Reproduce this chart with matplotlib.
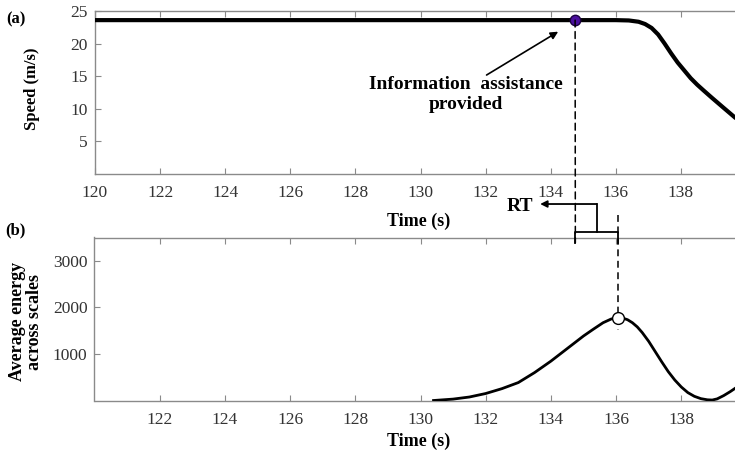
import matplotlib
matplotlib.use("Agg")
import matplotlib.pyplot as plt
from matplotlib.patches import ConnectionPatch

# ---------------- data ----------------
speed_time = [120.0, 130.0, 136.0, 136.4, 136.7, 136.9, 137.1, 137.3, 137.5,
              137.7, 137.9, 138.1, 138.3, 138.5, 138.7, 138.95, 139.3, 139.7, 140.0]
speed_vals = [23.6, 23.6, 23.6, 23.55, 23.35, 23.0, 22.4, 21.4, 20.0,
              18.5, 17.1, 15.9, 14.7, 13.7, 12.8, 11.7, 10.2, 8.5, 7.5]

energy_time = [130.4, 131.0, 131.5, 132.0, 132.5, 133.0, 133.5, 134.0, 134.5,
               135.0, 135.3, 135.6, 135.85, 136.05, 136.2, 136.35, 136.5, 136.65,
               136.8, 137.0, 137.2, 137.4, 137.6, 137.8, 138.0, 138.2, 138.4,
               138.6, 138.8, 138.95, 139.1, 139.3, 139.5, 139.7, 139.85, 140.0]
energy_vals = [0, 30, 75, 150, 255, 385, 600, 845, 1115,
               1385, 1530, 1670, 1750, 1780, 1770, 1735, 1670, 1580,
               1460, 1270, 1050, 830, 620, 440, 290, 170, 90,
               40, 15, 10, 35, 105, 190, 285, 345, 400]

info_time = 134.75      # information assistance provided
info_speed = 23.6
peak_time = 136.05      # peak of average energy
peak_energy = 1780

top_xticks = [120, 122, 124, 126, 128, 130, 132, 134, 136, 138]
top_yticks = [5, 10, 15, 20, 25]
bot_xticks = [122, 124, 126, 128, 130, 132, 134, 136, 138]
bot_yticks = [1000, 2000, 3000]

# ---------------- style ----------------
plt.rcParams['font.family'] = ['Liberation Serif', 'DejaVu Serif']
W, H = 735, 454
fig = plt.figure(figsize=(W / 100, H / 100), dpi=100)

ax1 = fig.add_axes([95 / W, 1 - 174 / H, 651 / W, 163 / H])
ax2 = fig.add_axes([94.5 / W, 1 - 400.5 / H, 652 / W, 163 / H])

spine_col = '#8a8a8a'
tick_col = '#333333'
for ax in (ax1, ax2):
    for s in ax.spines.values():
        s.set_color(spine_col)
        s.set_linewidth(1.0)
    ax.tick_params(direction='in', length=4, width=0.8, color=spine_col,
                   labelsize=12.5, labelcolor=tick_col, top=True, right=True)
    ax.tick_params(axis='x', pad=8)
    ax.tick_params(axis='y', pad=5)
    ax.set_xlim(120, 140)

# ---------------- panel (a) ----------------
ax1.plot(speed_time, speed_vals, color='black', lw=3.0, solid_capstyle='butt',
         solid_joinstyle='round', zorder=3)
ax1.set_ylim(0, 25)
ax1.set_xticks(top_xticks)
ax1.set_yticks(top_yticks)
ax1.set_xlabel('Time (s)', fontsize=13, fontweight='bold')
ax1.xaxis.set_label_coords(0.497, -0.235)
ax1.set_ylabel('Speed (m/s)', fontsize=12, fontweight='bold')
ax1.yaxis.set_label_coords(-0.084, 0.52)

ax1.plot([info_time], [info_speed], 'o', ms=7.5, mfc='#4a0f9e', mec='#1a0040',
         mew=1.0, zorder=5, clip_on=False)

ax1.text(131.39, 12.16, 'Information  assistance\nprovided', fontsize=14,
         fontweight='bold', ha='center', va='center', linespacing=1.2,
         multialignment='center')
ax1.annotate('', xy=(134.23, 21.83), xytext=(132.03, 15.18),
             arrowprops=dict(arrowstyle='-|>', color='black', lw=1.2,
                             mutation_scale=11, shrinkA=0, shrinkB=0))

# ---------------- panel (b) ----------------
ax2.plot(energy_time, energy_vals, color='black', lw=2.0,
         solid_joinstyle='round', zorder=3)
ax2.set_ylim(0, 3500)
ax2.set_xticks(bot_xticks)
ax2.set_yticks(bot_yticks)
ax2.set_xlabel('Time (s)', fontsize=13, fontweight='bold')
ax2.xaxis.set_label_coords(0.497, -0.195)
ax2.set_ylabel('Average energy\nacross scales', fontsize=13, fontweight='bold',
               linespacing=1.0)
ax2.yaxis.set_label_coords(-0.079, 0.483)

ax2.plot([peak_time], [peak_energy], 'o', ms=8.5, mfc='white', mec='black',
         mew=1.0, zorder=5)

dash = (0, (4.5, 3))
# dashed line from the info marker down to the bracket
con = ConnectionPatch(xyA=(info_time, info_speed), coordsA=ax1.transData,
                      xyB=(info_time, 3388), coordsB=ax2.transData,
                      color='black', lw=1.1, linestyle=dash, zorder=2)
fig.add_artist(con)
# dashed line at the energy peak
ax2.plot([peak_time, peak_time], [3983, 1514], color='black', lw=1.1,
         linestyle=dash, clip_on=False, zorder=2)

# RT bracket
mid = (info_time + peak_time) / 2
ax2.plot([info_time, info_time, peak_time, peak_time], [3388, 3624, 3624, 3388],
         color='black', lw=1.3, clip_on=False, zorder=4)
ax2.plot([mid, mid], [3624, 4219], color='black', lw=1.3, clip_on=False, zorder=4)
ax2.annotate('', xy=(133.67, 4219), xytext=(mid, 4219), annotation_clip=False,
             arrowprops=dict(arrowstyle='-|>', color='black', lw=1.3,
                             mutation_scale=10, shrinkA=0, shrinkB=0))
ax2.text(133.05, 4176, 'RT', fontsize=14, fontweight='bold', ha='center',
         va='center', clip_on=False)

# panel letters
fig.text(6 / W, 1 - 19 / H, '(a)', fontsize=12, fontweight='bold', va='center')
fig.text(5 / W, 1 - 230 / H, '(b)', fontsize=12, fontweight='bold', va='center')

fig.savefig('out.png', dpi=100)
